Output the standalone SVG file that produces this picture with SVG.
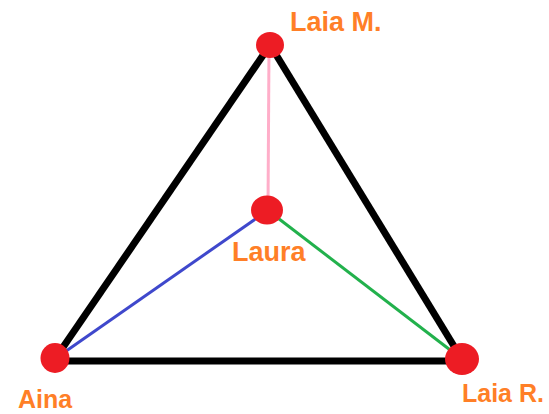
<svg xmlns="http://www.w3.org/2000/svg" width="549" height="414" viewBox="0 0 549 414">
<style>
.edge{stroke:#000;stroke-width:7;fill:none}
.node{fill:#ed1c24}
.lbl{font-family:"Liberation Sans",Arial,sans-serif;font-weight:bold;font-size:27px;fill:#ff7f27}
</style>
<rect width="549" height="414" fill="#fff"/>
<g id="connectors">
<line class="edge" x1="268" y1="48" x2="57" y2="356"/>
<line class="edge" x1="272" y1="48" x2="460" y2="356"/>
<line class="edge" x1="60" y1="361" x2="458" y2="361"/>
<line x1="269" y1="48" x2="268" y2="208" stroke="#ffaec9" stroke-width="3"/>
<line x1="59" y1="356" x2="264" y2="213" stroke="#3f48cc" stroke-width="3"/>
<line x1="270" y1="212" x2="458" y2="356" stroke="#22b14c" stroke-width="3"/>
</g>
<g id="laiaM"><ellipse class="node" cx="270" cy="45" rx="14" ry="13"/><text class="lbl" x="290" y="31">Laia M.</text></g>
<g id="laura"><ellipse class="node" cx="267" cy="210" rx="16" ry="14.5"/><text class="lbl" x="232" y="261">Laura</text></g>
<g id="aina"><ellipse class="node" cx="55" cy="358" rx="14.5" ry="15"/><text class="lbl" x="18" y="408" style="font-size:25px">Aina</text></g>
<g id="laiaR"><ellipse class="node" cx="462" cy="359" rx="17" ry="16"/><text class="lbl" x="462" y="402" style="font-size:25px">Laia R.</text></g>
</svg>
